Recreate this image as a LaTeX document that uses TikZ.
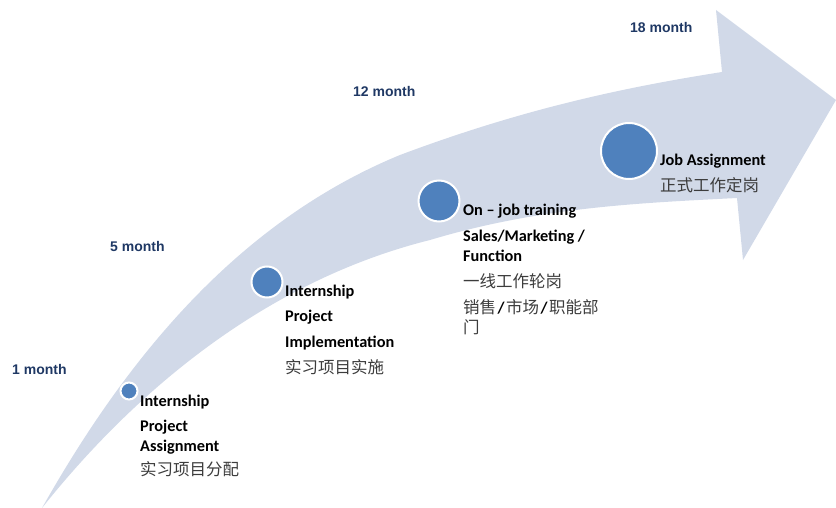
\documentclass[tikz,border=0pt]{standalone}
\usepackage{fontspec}
\setmainfont{Carlito}
\newfontfamily\monthfont{Liberation Sans}
\newfontfamily\cjk{Noto Sans CJK SC}
\definecolor{band}{RGB}{209,217,232}
\definecolor{dotblue}{RGB}{79,129,189}
\definecolor{navy}{RGB}{31,56,100}
\definecolor{cjkgray}{RGB}{60,60,60}
\newcommand{\zh}[1]{{\cjk\mdseries\fontsize{16.5}{19.5}\selectfont\color{cjkgray}#1}}
\newcommand{\slashsep}{\kern1.5pt/\kern1.5pt}
\begin{document}
\begin{tikzpicture}[x=1pt,y=-1pt,
  dot/.style={circle, fill=dotblue, draw=white, line width=2pt, inner sep=0pt},
  month/.style={anchor=west, inner sep=0pt, text=navy, font=\monthfont\bfseries\fontsize{14}{16}\selectfont},
  lbl/.style={anchor=north west, inner sep=0pt, align=left, font=\bfseries\fontsize{16.3}{19.5}\selectfont},
]
\useasboundingbox (0,0) rectangle (836,508);
% curved arrow band
\fill[band] (42,508) .. controls (120,370) and (230,225) .. (400,155)
  .. controls (520,110) and (620,88) .. (722,72)
  -- (716,10) -- (836,100) -- (743,260) -- (737,198)
  .. controls (640,203) and (540,207) .. (430,240)
  .. controls (250,285) and (120,410) .. (42,508)
  -- cycle;
% milestones
\node[dot, minimum size=17pt] (c1) at (129,391) {};
\node[dot, minimum size=31pt] (c2) at (267,282) {};
\node[dot, minimum size=41pt] (c3) at (439,201) {};
\node[dot, minimum size=56pt] (c4) at (629,151) {};
% months
\node[month] (m1) at (12,369) {1 month};
\node[month] (m5) at (110,246) {5 month};
\node[month] (m12) at (353,91) {12 month};
\node[month] (m18) at (630,27) {18 month};
% labels
\node[lbl] (l1) at (140,395) {Internship\\[5.5pt] Project\\ Assignment\\[4.5pt] \zh{实习项目分配}};
\node[lbl] (l2) at (285,285) {Internship\\[5.5pt] Project\\[6.5pt] Implementation\\[6.5pt] \zh{实习项目实施}};
\node[lbl] (l3) at (463,204) {On – job training\\[6.5pt] Sales/Marketing /\\ Function\\[6.5pt] \zh{一线工作轮岗}\\[7pt] \zh{销售}\slashsep\zh{市场}\slashsep\zh{职能部}\\ \zh{门}};
\node[lbl] (l4) at (660,154) {Job Assignment\\[6.5pt] \zh{正式工作定岗}};
\end{tikzpicture}
\end{document}
